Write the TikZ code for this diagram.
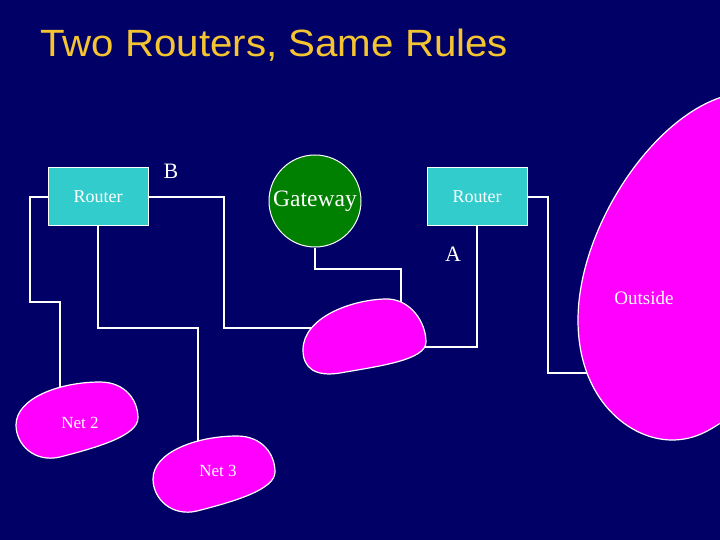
\documentclass[tikz,border=0pt]{standalone}
\usepackage{fontspec}
\setmainfont{Liberation Serif}
\newfontfamily\titlefont{Liberation Sans}
\definecolor{bg}{HTML}{000066}
\definecolor{routercol}{HTML}{33CCCC}
\definecolor{gatecol}{HTML}{008000}
\definecolor{blobcol}{HTML}{FF00FF}
\definecolor{titlecol}{HTML}{F5C431}
\begin{document}
\begin{tikzpicture}[x=1pt,y=-1pt,
  routerbox/.style={draw=white,line width=1pt,fill=routercol,minimum width=100pt,minimum height=58pt,inner sep=0pt,text=white,font=\fontsize{18}{20}\selectfont},
  gatenode/.style={circle,draw=white,line width=1pt,fill=gatecol,minimum size=92pt,inner sep=0pt,text=white,font=\fontsize{23.5}{26}\selectfont},
  blob/.style={draw=white,line width=1.2pt,fill=blobcol},
  wire/.style={draw=white,line width=2pt},
  lbl/.style={text=white,inner sep=0pt},
]
\useasboundingbox (0,0) rectangle (720,540);
\fill[bg] (0,0) rectangle (720,540);

% title
\node[anchor=base west,inner sep=0pt,text=titlecol,xscale=1.06,font=\titlefont\fontsize{38}{40}\selectfont] (title) at (40,57) {Two Routers, Same Rules};

% nodes
\node[routerbox] (r1) at (98,197) {Router};
\node[routerbox] (r2) at (477,197) {Router};
\node[gatenode] (gw) at (315,201) {Gateway};
\node[lbl,font=\fontsize{22}{24}\selectfont] (B) at (171,171) {B};
\node[lbl,font=\fontsize{22}{24}\selectfont] (A) at (453,254) {A};

\coordinate (midtop) at (401,310);
\coordinate (midleft) at (320,328);
\coordinate (midright) at (415,347);
\coordinate (net2top) at (60,395);
\coordinate (net3top) at (198,450);
\coordinate (outleft) at (595,373);

% wires (drawn beneath the networks)
\draw[wire] (r1.west) -- (30,197) -- (30,302) -- (60,302) -- (net2top);
\draw[wire] (r1.south) -- (98,328) -- (198,328) -- (net3top);
\draw[wire] (r1.east) -- (224,197) -- (224,328) -- (midleft);
\draw[wire] (gw.south) -- (315,269) -- (401,269) -- (midtop);
\draw[wire] (r2.south) -- (477,347) -- (midright);
\draw[wire] (r2.east) -- (548,197) -- (548,373) -- (outleft);

% networks
\begin{scope}
\clip (0,0) rectangle (720,540);
% middle network
\draw[blob] (303,350) .. controls (303,318) and (350,300) .. (385,299)
  .. controls (410,298) and (426,322) .. (426,342)
  .. controls (426,360) and (380,366) .. (340,373)
  .. controls (315,377) and (303,368) .. (303,350) -- cycle;
% Net 2
\draw[blob] (16,425) .. controls (16,398) and (60,382) .. (100,382)
  .. controls (125,382) and (138,400) .. (138,418)
  .. controls (138,436) and (95,448) .. (60,457)
  .. controls (35,463) and (16,445) .. (16,425) -- cycle;
% Net 3
\begin{scope}[shift={(137,54)}]
\draw[blob] (16,425) .. controls (16,398) and (60,382) .. (100,382)
  .. controls (125,382) and (138,400) .. (138,418)
  .. controls (138,436) and (95,448) .. (60,457)
  .. controls (35,463) and (16,445) .. (16,425) -- cycle;
\end{scope}
% Outside
\draw[blob] (722,97) .. controls (650,120) and (578,230) .. (578,320)
  .. controls (578,400) and (630,440) .. (672,440)
  .. controls (695,440) and (710,430) .. (725,420)
  -- (760,420) -- (760,90) -- cycle;
\end{scope}

\node[lbl,font=\fontsize{17}{19}\selectfont] (n2) at (80,423) {Net 2};
\node[lbl,font=\fontsize{17}{19}\selectfont] (n3) at (218,471) {Net 3};
\node[lbl,font=\fontsize{19}{21}\selectfont] (out) at (644,298) {Outside};
\end{tikzpicture}
\end{document}
